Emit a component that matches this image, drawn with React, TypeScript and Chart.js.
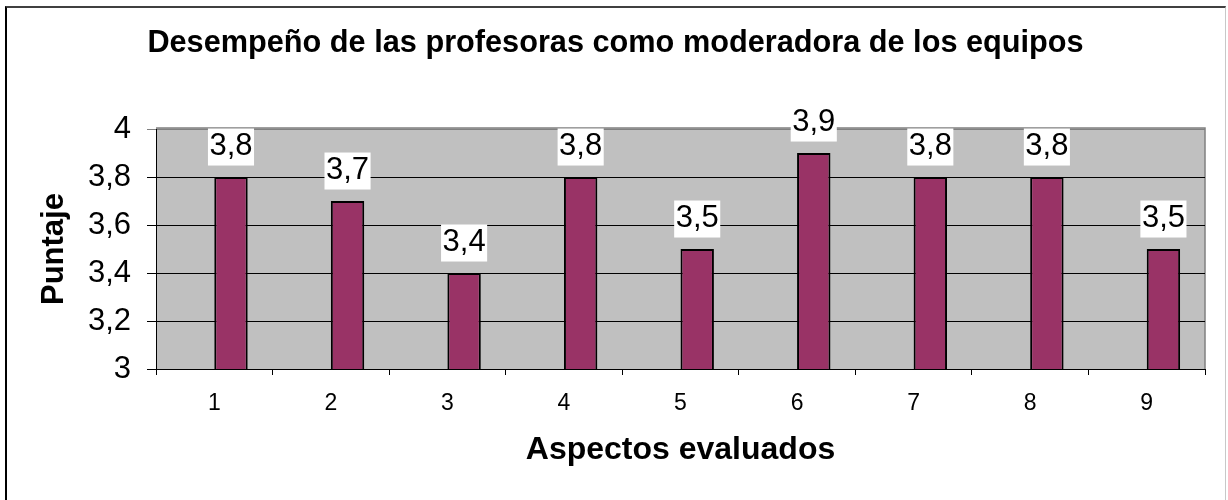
import React, { useEffect, useRef } from "react";
import { Chart, registerables } from "chart.js";

Chart.register(...registerables);

const FONT = "'Liberation Sans', Arial, Helvetica, sans-serif";

const chartTitle = "Desempeño de las profesoras como moderadora de los equipos";
const xAxisTitle = "Aspectos evaluados";
const yAxisTitle = "Puntaje";

const categories = ["1", "2", "3", "4", "5", "6", "7", "8", "9"];
const puntajes = [3.8, 3.7, 3.4, 3.8, 3.5, 3.9, 3.8, 3.8, 3.5];
// Empty first series (Excel leaves its slot free, so bars sit right of each category centre)
const serieVacia = [null, null, null, null, null, null, null, null, null];

const yMin = 3;
const yMax = 4;
const yStep = 0.2;

const fmt = (v: number) =>
  Math.abs(v - Math.round(v)) < 1e-9 ? String(Math.round(v)) : v.toFixed(1).replace(".", ",");

const plotBackground = {
  id: "plotBackground",
  beforeDraw(chart: any) {
    const { ctx, chartArea } = chart;
    if (!chartArea) return;
    ctx.save();
    ctx.fillStyle = "#c0c0c0";
    ctx.fillRect(chartArea.left, chartArea.top - 1, chartArea.right - chartArea.left, chartArea.bottom - chartArea.top + 1);
    ctx.strokeStyle = "#808080";
    ctx.lineWidth = 1.5;
    ctx.beginPath();
    ctx.moveTo(chartArea.left, chartArea.top - 1);
    ctx.lineTo(chartArea.right, chartArea.top - 1);
    ctx.lineTo(chartArea.right, chartArea.bottom);
    ctx.stroke();
    ctx.restore();
  },
};

const valueLabels = {
  id: "valueLabels",
  afterDatasetsDraw(chart: any) {
    const { ctx } = chart;
    const meta = chart.getDatasetMeta(1);
    const data = chart.data.datasets[1].data as number[];
    ctx.save();
    ctx.font = `31px ${FONT}`;
    ctx.textAlign = "center";
    ctx.textBaseline = "alphabetic";
    meta.data.forEach((bar: any, i: number) => {
      const text = fmt(data[i]);
      const w = ctx.measureText(text).width;
      const x = bar.x;
      const y = bar.y;
      ctx.fillStyle = "#ffffff";
      ctx.fillRect(x - w / 2 - 1.5, y - 48.5, w + 3, 37);
      ctx.fillStyle = "#000000";
      ctx.fillText(text, x, y - 22);
    });
    ctx.restore();
  },
};

export default function App() {
  const canvasRef = useRef<HTMLCanvasElement | null>(null);

  useEffect(() => {
    if (!canvasRef.current) return;
    const chart = new Chart(canvasRef.current, {
      type: "bar",
      data: {
        labels: categories,
        datasets: [
          {
            label: "vacía",
            data: serieVacia as any,
            backgroundColor: "rgba(0,0,0,0)",
            borderWidth: 0,
            categoryPercentage: 0.5735,
            barPercentage: 1,
          },
          {
            label: "Puntaje",
            data: puntajes,
            backgroundColor: "#993366",
            borderColor: "#000000",
            borderWidth: 2,
            borderSkipped: false,
            categoryPercentage: 0.5735,
            barPercentage: 1,
          },
        ],
      },
      options: {
        responsive: false,
        animation: false,
        devicePixelRatio: 1,
        layout: { padding: { left: 3, right: 0, top: 0, bottom: 0 } },
        plugins: {
          legend: { display: false },
          tooltip: { enabled: false },
          title: {
            display: true,
            text: chartTitle,
            color: "#000",
            font: { family: FONT, size: 30.7, weight: "bold" },
            padding: { top: 25, bottom: 67.2 },
          },
        },
        scales: {
          x: {
            grid: { offset: true, drawOnChartArea: false, color: "#000", tickLength: 6 },
            border: { color: "#000", width: 1 },
            ticks: {
              color: "#000",
              font: { family: FONT, size: 23 },
              padding: 15,
              maxRotation: 0,
              autoSkip: false,
            },
            title: {
              display: true,
              text: xAxisTitle,
              color: "#000",
              font: { family: FONT, size: 32, weight: "bold" },
              padding: { top: 0, bottom: 31 },
            },
            afterFit: (s: any) => {
              s.height = 131;
            },
          },
          y: {
            min: yMin,
            max: yMax,
            ticks: {
              stepSize: yStep,
              color: "#000",
              font: { family: FONT, size: 31 },
              padding: 16,
              callback: (v: any) => fmt(Number(v)),
            },
            grid: {
              color: (c: any) => (c.tick && Math.abs(c.tick.value - yMax) < 1e-9 ? "#808080" : "#000"),
              tickLength: 9,
              lineWidth: 1,
            },
            border: { color: "#000", width: 1 },
            title: {
              display: true,
              text: yAxisTitle,
              color: "#000",
              font: { family: FONT, size: 31, weight: "bold" },
              padding: { top: 33, bottom: 0 },
            },
            afterFit: (s: any) => {
              s.width = 153;
            },
          },
          margenDerecho: {
            type: "linear",
            position: "right",
            display: true,
            grid: { display: false, drawTicks: false },
            border: { display: false },
            ticks: { display: false },
            afterFit: (s: any) => {
              s.width = 23;
            },
          },
        },
      },
      plugins: [plotBackground, valueLabels],
    });
    return () => chart.destroy();
  }, []);

  return (
    <div style={{ position: "absolute", left: 0, top: 0, width: 1228, height: 500, overflow: "hidden", background: "#fff" }}>
      <div
        style={{
          position: "absolute",
          left: 5,
          top: 6,
          width: 1221,
          height: 600,
          borderTop: "2px solid #404040",
          borderLeft: "2px solid #000",
          borderRight: "1px solid #c8c8c8",
          boxSizing: "border-box",
        }}
      />
      <canvas
        ref={canvasRef}
        width={1228}
        height={500}
        style={{ position: "absolute", left: 0, top: 0, display: "block" }}
      />
    </div>
  );
}
